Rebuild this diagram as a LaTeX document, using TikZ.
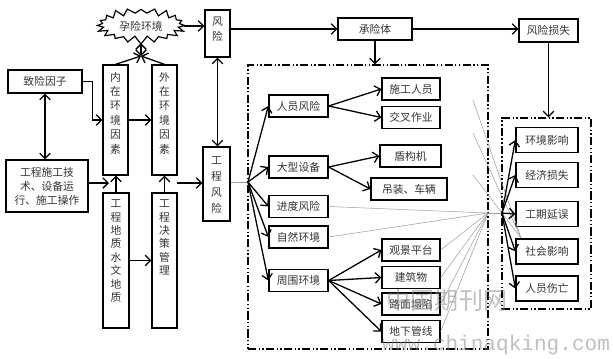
\documentclass[tikz,border=0pt]{standalone}
\usepackage{fontspec}
\setmainfont{Liberation Serif}
\newfontfamily\cjk{Noto Sans CJK SC}
\newfontfamily\wmono{Liberation Mono}
\usetikzlibrary{arrows.meta}
\newcommand\vt[4]{\parbox[c][#1][t]{1.2em}{\centering\fontsize{9.2}{#3}\selectfont\vspace*{#2}#4\par}}
\tikzset{
  box/.style={draw, line width=1.1pt, inner sep=0pt, text=black!80, align=center},
  vbx/.style={draw, line width=1.1pt, inner sep=0pt, text=black!80},
  arr/.style={-{Straight Barb[length=4.5pt,width=9pt]}, line width=1.1pt},
  darr/.style={{Straight Barb[length=4.5pt,width=9pt]}-{Straight Barb[length=4.5pt,width=9pt]}, line width=1.1pt},
  thin/.style={draw=gray!75, line width=0.45pt},
  dd/.style={draw, line width=1.1pt, dash pattern=on 7pt off 2pt on 1.2pt off 2pt on 1.2pt off 2pt},
  lbox/.style={box, minimum width=1.77cm, minimum height=0.66cm},
  rbox/.style={box, minimum width=1.74cm, minimum height=0.66cm},
  qbox/.style={box, minimum width=1.86cm, minimum height=0.75cm}
}
\begin{document}
\begin{tikzpicture}[x=0.03cm, y=-0.03cm, font=\cjk\fontsize{9.2}{12}\selectfont]
\useasboundingbox (0,0) rectangle (613,358);
\fill[white] (0,0) rectangle (613,358);

% cloud
\draw[line width=1pt, fill=white, line join=miter] plot[domain=0:360, samples=41, variable=\t]
  ({141+(41+(2.6+1.2*sin(3*\t))*cos(20*\t))*cos(\t)}, {25.5+(14.5+(2.8+1.2*sin(5*\t))*cos(20*\t))*sin(\t)}) -- cycle;
\node[minimum width=2.58cm, minimum height=1.02cm, inner sep=0pt, text=black!80] (cloud) at (141,26) {孕险环境};

% left column
\node[box, minimum width=2.22cm, minimum height=0.69cm] (zy) at (45,81.5) {致险因子};
\node[box, minimum width=2.46cm, minimum height=1.56cm] (gs) at (47,186) {工程施工技\\术、设备运\\行、施工操作};
\node[vbx, minimum width=0.75cm] (nz) at (115.5,120) {\vt{3.3cm}{6pt}{12.3pt}{内\\在\\环\\境\\因\\素}};
\node[vbx, minimum width=0.75cm] (wz) at (164.5,120) {\vt{3.3cm}{6pt}{12.3pt}{外\\在\\环\\境\\因\\素}};
\node[vbx, minimum width=0.78cm] (gd) at (116,260.5) {\vt{4.05cm}{6pt}{11.4pt}{工\\程\\地\\质\\水\\文\\地\\质}};
\node[vbx, minimum width=0.75cm] (jc) at (164.5,260.5) {\vt{4.05cm}{6pt}{11.4pt}{工\\程\\决\\策\\管\\理}};
\node[vbx, minimum width=0.75cm] (fx) at (217.5,33.5) {\vt{1.41cm}{6pt}{12.4pt}{风\\险}};
\node[vbx, minimum width=0.81cm] (gf) at (216.5,184) {\vt{2.22cm}{8pt}{13.6pt}{工\\程\\风\\险}};

% top row
\node[box, minimum width=2.22cm, minimum height=0.66cm] (cx) at (375,29) {承险体};
\node[box, minimum width=1.77cm, minimum height=0.69cm] (fl) at (548.5,30.5) {风险损失};

% dash-dot frames
\node[dd, minimum width=7.2cm, minimum height=8.52cm] (b1) at (368,207) {};
\node[dd, minimum width=2.67cm, minimum height=5.73cm] (b2) at (546.5,213.5) {};

% frame 1 left boxes
\node[lbox] (ryfx) at (298.5,106) {人员风险};
\node[lbox] (dxsb) at (298.5,167) {大型设备};
\node[lbox] (jdfx) at (298.5,206.5) {进度风险};
\node[lbox] (zrhj) at (298.5,237) {自然环境};
\node[lbox] (zwhj) at (298.5,280.5) {周围环境};
% frame 1 right boxes
\node[rbox] (sgry) at (411,89) {施工人员};
\node[rbox] (jczy) at (411,117.5) {交叉作业};
\node[rbox, minimum width=1.83cm] (dgj) at (410.5,156) {盾构机};
\node[rbox, minimum width=2.28cm] (dzcl) at (409,189) {吊装、车辆};
\node[rbox] (gjpt) at (411,250) {观景平台};
\node[rbox] (jzw) at (411,277.5) {建筑物};
\node[rbox] (lmtx) at (411,304) {路面塌陷};
\node[rbox] (dxgx) at (411,331.5) {地下管线};

% frame 2 boxes
\node[qbox] (hjyx) at (547,140) {环境影响};
\node[qbox] (jjss) at (547,175) {经济损失};
\node[qbox] (gqyw) at (547,214) {工期延误};
\node[qbox] (shyx) at (547,251.5) {社会影响};
\node[qbox] (ryws) at (547,288.5) {人员伤亡};

% coordinates
\coordinate (c0) at (141,56);
\coordinate (j1) at (109,183);
\coordinate (j2) at (177,183);
\coordinate (f1) at (248,182);
\coordinate (p) at (488,213);
\coordinate (q) at (502,213);
\coordinate (r) at (521,238);
\coordinate (t1) at (473,100);
\coordinate (t2) at (473,133);
\coordinate (t3) at (473,175);

% left connectors
\draw[darr] (zy.south) -- (zy.south |- gs.north);
\draw[arr] (zy.east) -- ++(10,0) |- (nz.west);
\draw[arr] (nz.east) -- (wz.west);
\draw[arr] (nz.north) -- (c0);
\draw[arr] (wz.north) -- (c0);
\draw[darr] (c0) -- (c0 |- cloud.south);
\draw[arr] (gs.east |- j1) -- (j1);
\draw[arr] (gd.north) -- (gd.north |- nz.south);
\draw[arr] (jc.north) -- (jc.north |- wz.south);
\draw[arr] (gd.east) -- (jc.west);
\draw[arr] (j2) -- (gf.west |- j2);

% top connectors
\draw[arr] (cloud.east) -- (fx.west |- cloud.east);
\draw[arr] (fx.east |- cx.west) -- (cx.west);
\draw[arr] (cx.east) -- (fl.west |- cx.east);
\draw[arr] (cx.south) -- (cx.south |- b1.north);
\draw[arr] (fl.south) -- (fl.south |- b2.north);
\draw[darr] (fx.south) -- (fx.south |- gf.north);

% fan into frame 1
\draw[thin] (gf.east |- f1) -- (f1);
\foreach \n in {ryfx,dxsb,jdfx,zrhj,zwhj} \draw[arr] (f1) -- (\n.west);
\draw[arr] (ryfx.east) -- (sgry.west);
\draw[arr] (ryfx.east) -- (jczy.west);
\draw[arr] (dxsb.east) -- (dgj.west);
\draw[arr] (dxsb.east) -- (dzcl.west);
\foreach \n in {gjpt,jzw,lmtx,dxgx} \draw[arr] (zwhj.east) -- (\n.west);

% thin converging lines
\foreach \n in {jdfx,zrhj,gjpt,jzw,lmtx,dxgx} \draw[thin] (\n.east) -- (p);
\draw[thin] (p) -- (q);
\foreach \n in {t1,t2,t3} \draw[thin] (\n) -- (r);

% fan into frame 2
\foreach \n in {hjyx,jjss,gqyw,shyx,ryws} \draw[arr] (q) -- (\n.west);

% watermark
\node[text=gray, text opacity=0.5, font=\cjk\fontsize{20.5}{22}\selectfont, inner sep=0pt] (wm1) at (447,300) {中国期刊网};
\node[text=gray, text opacity=0.5, font=\wmono\fontsize{18}{20}\selectfont, inner sep=0pt, anchor=west] (wm2) at (382,345) {www.chinaqking.com};
\end{tikzpicture}
\end{document}
